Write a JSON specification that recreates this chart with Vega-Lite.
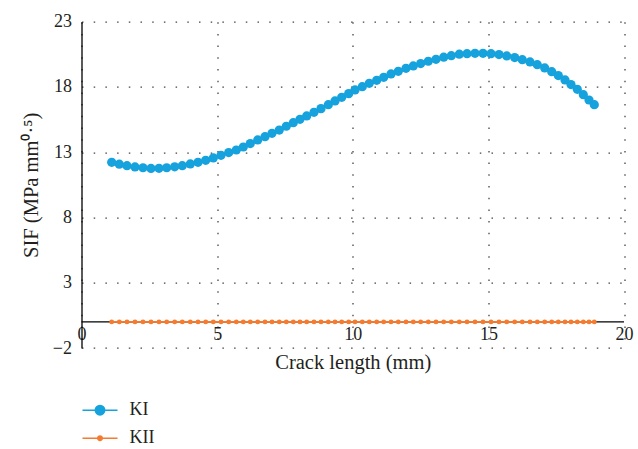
{
  "$schema": "https://vega.github.io/schema/vega-lite/v6.json",
  "width": 542.5,
  "height": 326.3,
  "autosize": {"type": "none"},
  "padding": {"left": 81.5, "top": 21.7, "right": 14, "bottom": 101},
  "config": {
    "view": {"stroke": null},
    "font": "Liberation Serif",
    "axis": {
      "labelFont": "Liberation Serif",
      "titleFont": "Liberation Serif",
      "labelFontSize": 18,
      "titleFontSize": 20.5,
      "labelColor": "#231f20",
      "titleColor": "#231f20",
      "titleFontWeight": "normal",
      "ticks": false,
      "gridColor": "#444444",
      "gridWidth": 1.3,
      "gridDash": [1.5, 10.2],
      "gridOpacity": 1
    }
  },
  "datasets": {
    "sif": [
      {"x": 1.113, "KI": 12.23, "KII": 0},
      {"x": 1.394, "KI": 12.08, "KII": 0},
      {"x": 1.677, "KI": 11.97, "KII": 0},
      {"x": 1.972, "KI": 11.87, "KII": 0},
      {"x": 2.267, "KI": 11.81, "KII": 0},
      {"x": 2.562, "KI": 11.76, "KII": 0},
      {"x": 2.857, "KI": 11.77, "KII": 0},
      {"x": 3.141, "KI": 11.81, "KII": 0},
      {"x": 3.436, "KI": 11.88, "KII": 0},
      {"x": 3.716, "KI": 11.97, "KII": 0},
      {"x": 4.011, "KI": 12.10, "KII": 0},
      {"x": 4.295, "KI": 12.23, "KII": 0},
      {"x": 4.579, "KI": 12.38, "KII": 0},
      {"x": 4.859, "KI": 12.56, "KII": 0},
      {"x": 5.143, "KI": 12.76, "KII": 0},
      {"x": 5.427, "KI": 12.97, "KII": 0},
      {"x": 5.707, "KI": 13.17, "KII": 0},
      {"x": 5.965, "KI": 13.40, "KII": 0},
      {"x": 6.223, "KI": 13.66, "KII": 0},
      {"x": 6.496, "KI": 13.94, "KII": 0},
      {"x": 6.765, "KI": 14.19, "KII": 0},
      {"x": 7.023, "KI": 14.45, "KII": 0},
      {"x": 7.292, "KI": 14.70, "KII": 0},
      {"x": 7.550, "KI": 14.99, "KII": 0},
      {"x": 7.808, "KI": 15.26, "KII": 0},
      {"x": 8.055, "KI": 15.52, "KII": 0},
      {"x": 8.302, "KI": 15.78, "KII": 0},
      {"x": 8.571, "KI": 16.06, "KII": 0},
      {"x": 8.829, "KI": 16.34, "KII": 0},
      {"x": 9.099, "KI": 16.64, "KII": 0},
      {"x": 9.346, "KI": 16.93, "KII": 0},
      {"x": 9.593, "KI": 17.21, "KII": 0},
      {"x": 9.851, "KI": 17.49, "KII": 0},
      {"x": 10.083, "KI": 17.77, "KII": 0},
      {"x": 10.352, "KI": 18.02, "KII": 0},
      {"x": 10.610, "KI": 18.28, "KII": 0},
      {"x": 10.883, "KI": 18.51, "KII": 0},
      {"x": 11.141, "KI": 18.74, "KII": 0},
      {"x": 11.410, "KI": 19.00, "KII": 0},
      {"x": 11.679, "KI": 19.20, "KII": 0},
      {"x": 11.963, "KI": 19.43, "KII": 0},
      {"x": 12.232, "KI": 19.61, "KII": 0},
      {"x": 12.505, "KI": 19.79, "KII": 0},
      {"x": 12.785, "KI": 19.97, "KII": 0},
      {"x": 13.069, "KI": 20.12, "KII": 0},
      {"x": 13.353, "KI": 20.28, "KII": 0},
      {"x": 13.633, "KI": 20.40, "KII": 0},
      {"x": 13.928, "KI": 20.51, "KII": 0},
      {"x": 14.212, "KI": 20.55, "KII": 0},
      {"x": 14.507, "KI": 20.58, "KII": 0},
      {"x": 14.802, "KI": 20.58, "KII": 0},
      {"x": 15.097, "KI": 20.55, "KII": 0},
      {"x": 15.392, "KI": 20.48, "KII": 0},
      {"x": 15.676, "KI": 20.38, "KII": 0},
      {"x": 15.970, "KI": 20.25, "KII": 0},
      {"x": 16.251, "KI": 20.09, "KII": 0},
      {"x": 16.535, "KI": 19.92, "KII": 0},
      {"x": 16.804, "KI": 19.71, "KII": 0},
      {"x": 17.077, "KI": 19.46, "KII": 0},
      {"x": 17.335, "KI": 19.17, "KII": 0},
      {"x": 17.578, "KI": 18.87, "KII": 0},
      {"x": 17.825, "KI": 18.54, "KII": 0},
      {"x": 18.046, "KI": 18.18, "KII": 0},
      {"x": 18.278, "KI": 17.82, "KII": 0},
      {"x": 18.500, "KI": 17.41, "KII": 0},
      {"x": 18.710, "KI": 17.00, "KII": 0},
      {"x": 18.905, "KI": 16.64, "KII": 0}
    ]
  },
  "layer": [
    {
      "data": {"values": [{"x0": 0, "x1": 20, "y": 0}]},
      "mark": {"type": "rule", "color": "#000000", "strokeWidth": 1.3},
      "encoding": {
        "x": {
          "field": "x0", "type": "quantitative",
          "scale": {"domain": [0, 20], "nice": false},
          "axis": {
            "title": "Crack length (mm)",
            "values": [0, 5, 10, 15, 20],
            "domain": false,
            "labelPadding": -23,
            "labelFlush": false,
            "titlePadding": 4
          }
        },
        "x2": {"field": "x1"},
        "y": {
          "field": "y", "type": "quantitative",
          "scale": {"domain": [-2, 23], "nice": false, "zero": false},
          "axis": {
            "title": "SIF (MPa mm⁰·⁵)",
            "values": [-2, 3, 8, 13, 18, 23],
            "domain": true,
            "domainColor": "#000000",
            "domainWidth": 1.3,
            "labelPadding": 10,
            "titlePadding": 11
          }
        }
      }
    },
    {
      "data": {"name": "sif"},
      "transform": [{"fold": ["KI", "KII"], "as": ["series", "v"]}],
      "encoding": {
        "x": {
          "field": "x", "type": "quantitative",
          "scale": {"domain": [0, 20], "nice": false},
          "axis": {
            "title": "Crack length (mm)",
            "values": [0, 5, 10, 15, 20],
            "domain": false,
            "labelPadding": -23,
            "labelFlush": false,
            "titlePadding": 4
          }
        },
        "y": {
          "field": "v", "type": "quantitative",
          "scale": {"domain": [-2, 23], "nice": false, "zero": false},
          "axis": {
            "title": "SIF (MPa mm⁰·⁵)",
            "values": [-2, 3, 8, 13, 18, 23],
            "domain": true,
            "domainColor": "#000000",
            "domainWidth": 1.3,
            "labelPadding": 10,
            "titlePadding": 11
          }
        },
        "color": {
          "field": "series", "type": "nominal",
          "scale": {"domain": ["KI", "KII"], "range": ["#15a2dd", "#f47b2f"]},
          "legend": {
            "orient": "none",
            "legendX": 0,
            "legendY": 370,
            "direction": "vertical",
            "title": null,
            "symbolSize": 1225,
            "symbolStrokeWidth": 1.5,
            "labelFont": "Liberation Serif",
            "labelFontSize": 18,
            "labelColor": "#231f20",
            "labelOffset": 11,
            "rowPadding": -3,
            "padding": 0,
            "encode": {
              "symbols": {
                "update": {
                  "shape": {"signal": "datum.value === 'KI' ? 'M-1,0L1,0M0.27,0A0.27,0.27,0,1,1,-0.27,0A0.27,0.27,0,1,1,0.27,0Z' : 'M-1,0L1,0M0.13,0A0.13,0.13,0,1,1,-0.13,0A0.13,0.13,0,1,1,0.13,0Z'"},
                  "size": {"value": 1225},
                  "fill": {"scale": "color", "field": "value"},
                  "stroke": {"scale": "color", "field": "value"},
                  "strokeWidth": {"value": 1.5},
                  "opacity": {"value": 1},
                  "fillOpacity": {"value": 1},
                  "strokeOpacity": {"value": 1}
                }
              }
            }
          }
        }
      },
      "layer": [
        {"mark": {"type": "line", "strokeWidth": 1.8}},
        {
          "transform": [{"filter": "datum.series === 'KI'"}],
          "mark": {"type": "point", "filled": true, "opacity": 1, "size": 85}
        },
        {
          "transform": [{"filter": "datum.series === 'KII'"}],
          "mark": {"type": "point", "filled": true, "opacity": 1, "size": 24}
        }
      ]
    }
  ]
}
